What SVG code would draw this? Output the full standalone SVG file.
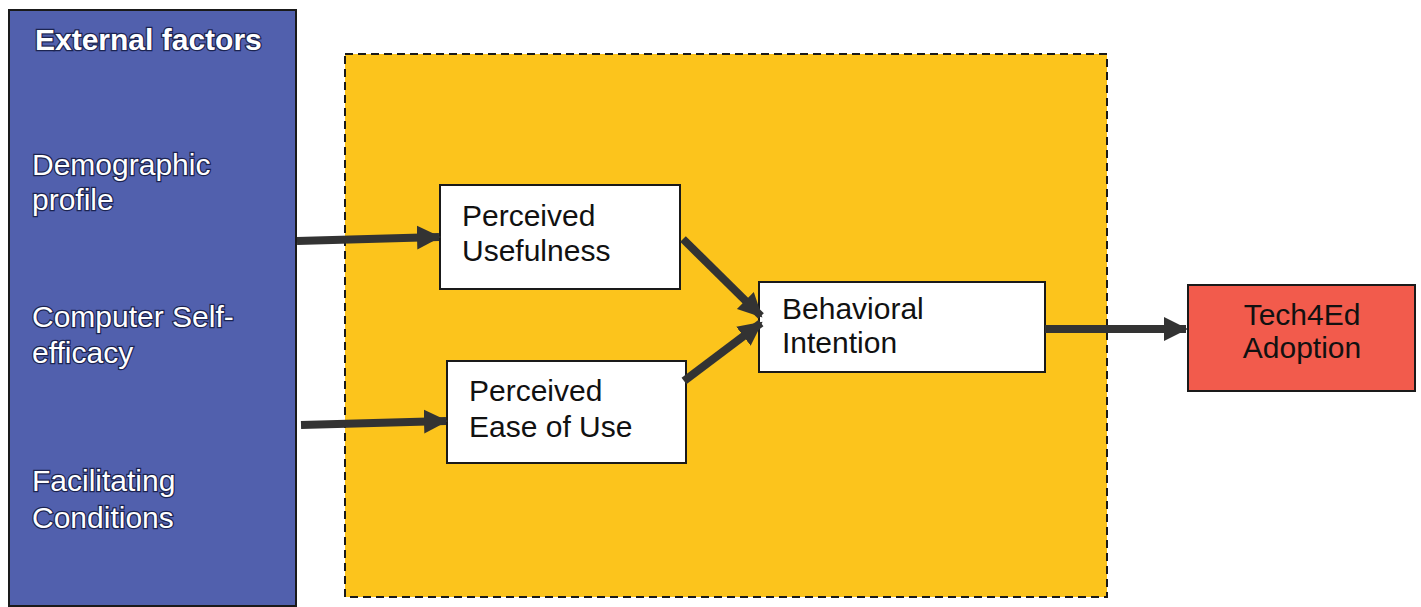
<svg xmlns="http://www.w3.org/2000/svg" width="1421" height="607" viewBox="0 0 1421 607">
<style>
.box{fill:#ffffff;stroke:#1a1a1a;stroke-width:2}
.t{font-family:"Liberation Sans",Arial,sans-serif;font-size:30px;fill:#111}
.w{font-family:"Liberation Sans",Arial,sans-serif;font-size:30px;fill:#ffffff;stroke:#1c2450;stroke-width:2.5;paint-order:stroke}
.arr{stroke:#333333;stroke-width:8;fill:none;marker-end:url(#ah)}
</style>
<defs>
<marker id="ah" markerUnits="userSpaceOnUse" markerWidth="26" markerHeight="28" refX="22" refY="14" orient="auto">
<path d="M0,2 L24,14 L0,26 Z" fill="#333333"/>
</marker>
</defs>
<rect width="1421" height="607" fill="#ffffff"/>
<g id="external">
<rect x="9" y="10" width="287" height="596" fill="#5160ad" stroke="#1a1a1a" stroke-width="2"/>
<text class="w" x="35" y="50" font-weight="bold" font-size="31">External factors</text>
<text class="w" x="32" y="175">Demographic</text>
<text class="w" x="32" y="210">profile</text>
<text class="w" x="32" y="327">Computer Self-</text>
<text class="w" x="32" y="363">efficacy</text>
<text class="w" x="32" y="491">Facilitating</text>
<text class="w" x="32" y="528">Conditions</text>
</g>
<g id="tam">
<rect x="345" y="54" width="762" height="543" fill="#fcc41c" stroke="#1a1a1a" stroke-width="2" stroke-dasharray="8,5"/>
</g>
<g id="pu">
<rect class="box" x="440" y="185" width="240" height="104"/>
<text class="t" x="462" y="226">Perceived</text>
<text class="t" x="462" y="261">Usefulness</text>
</g>
<g id="peou">
<rect class="box" x="447" y="361" width="239" height="102"/>
<text class="t" x="469" y="401">Perceived</text>
<text class="t" x="469" y="437">Ease of Use</text>
</g>
<g id="bi">
<rect class="box" x="759" y="282" width="286" height="90"/>
<text class="t" x="782" y="319">Behavioral</text>
<text class="t" x="782" y="353">Intention</text>
</g>
<g id="adoption">
<rect x="1188" y="285" width="227" height="106" fill="#f25b4c" stroke="#1a1a1a" stroke-width="2"/>
<text class="t" x="1302" y="325" text-anchor="middle">Tech4Ed</text>
<text class="t" x="1302" y="358" text-anchor="middle">Adoption</text>
</g>
<g id="connectors">
<line class="arr" x1="297" y1="241" x2="439" y2="237"/>
<line class="arr" x1="301" y1="425" x2="446" y2="421"/>
<line class="arr" x1="683" y1="239" x2="761" y2="316"/>
<line class="arr" x1="684" y1="381" x2="761" y2="323"/>
<line class="arr" x1="1045" y1="329" x2="1186" y2="329"/>
</g>
</svg>
